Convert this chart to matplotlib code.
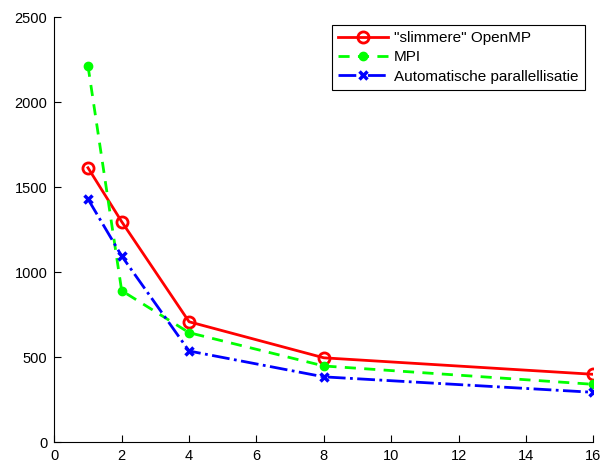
import numpy as np
import matplotlib.pyplot as plt

plt.rcParams['font.family'] = ['Liberation Sans', 'DejaVu Sans']

# aantal processoren
procs = [1, 2, 4, 8, 16]
openmp = [1615, 1298, 709, 497, 400]
mpi = [2215, 892, 645, 449, 341]
auto_par = [1431, 1096, 537, 385, 294]

labels = ['"slimmere" OpenMP', 'MPI', 'Automatische parallellisatie']

fig = plt.figure(figsize=(6.01, 4.68), dpi=100)
ax = fig.add_axes([0.0903, 0.0549, 0.8972, 0.9081])

ax.plot(procs, openmp, color='red', linestyle='-', linewidth=2,
        marker='o', markersize=8, markerfacecolor='none', markeredgewidth=2, label=labels[0])
ax.plot(procs, mpi, color='#00ff00', linestyle='--', linewidth=2, dashes=(4, 3),
        marker='o', markersize=6, label=labels[1])
ax.plot(procs, auto_par, color='blue', linestyle='-.', linewidth=2,
        marker='x', markersize=6, markeredgewidth=2.5, label=labels[2])

ax.set_xlim(0, 16)
ax.set_ylim(0, 2500)
ax.set_xticks(np.arange(0, 17, 2))
ax.set_yticks(np.arange(0, 2501, 500))
ax.spines['top'].set_visible(False)
ax.spines['right'].set_visible(False)
ax.tick_params(direction='in', labelsize=10.5, length=5, pad=5)

leg = ax.legend(loc='upper right', bbox_to_anchor=(0.984, 0.982), borderaxespad=0,
                fancybox=False, edgecolor='black', framealpha=1, fontsize=11,
                handlelength=3.3, borderpad=0.4, labelspacing=0.35, handletextpad=0.4)
leg.get_frame().set_linewidth(0.8)

fig.savefig('out.png', dpi=100)
